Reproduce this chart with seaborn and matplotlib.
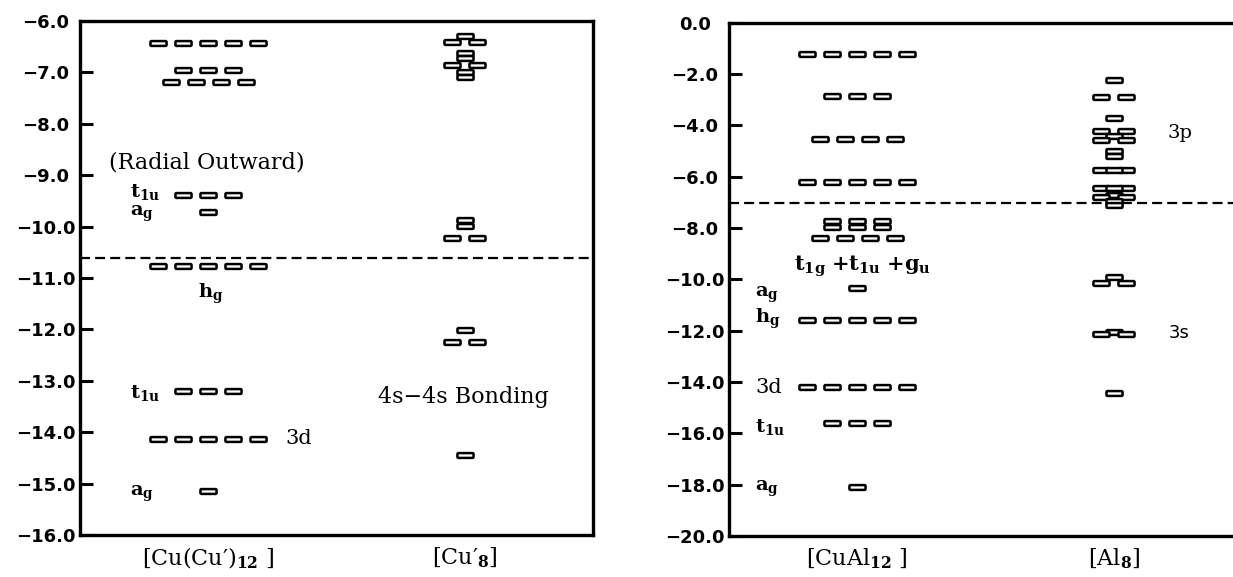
import numpy as np
import pandas as pd
import matplotlib
matplotlib.use("Agg")
import matplotlib.pyplot as plt
import seaborn as sns
from matplotlib.path import Path

sns.set_style("white")
plt.rcParams["font.family"] = ["DejaVu Serif"]
plt.rcParams["mathtext.fontset"] = "dejavuserif"
plt.rcParams["text.color"] = "black"
plt.rcParams["xtick.color"] = "black"
plt.rcParams["ytick.color"] = "black"

# orbital energies (eV) and number of degenerate boxes drawn on each level
cu12_energy = [-6.43, -6.96, -7.19, -9.39, -9.71, -10.76, -13.19, -14.13, -15.14]
cu12_degen = [5, 3, 4, 3, 1, 5, 3, 5, 1]

cu8_energy = [-6.29, -6.41, -6.63, -6.72, -6.86, -6.99, -7.09,
              -9.87, -9.99, -10.22, -12.02, -12.24, -14.44]
cu8_degen = [1, 2, 1, 1, 2, 1, 1, 1, 1, 2, 1, 2, 1]

cual12_energy = [-1.22, -2.84, -4.53, -6.19, -7.72, -7.95, -8.37,
                 -10.35, -11.58, -14.18, -15.58, -18.10]
cual12_degen = [5, 3, 4, 5, 3, 3, 4, 1, 5, 5, 3, 1]

al8_energy = [-2.23, -2.88, -3.72, -4.21, -4.41, -4.57, -5.00, -5.20,
              -5.74, -5.74, -6.45, -6.45, -6.70, -6.80, -6.95, -7.10,
              -9.90, -10.15, -12.05, -12.13, -14.44]
al8_degen = [1, 2, 1, 2, 1, 2, 1, 1, 2, 1, 2, 1, 1, 2, 1, 1, 1, 2, 1, 2, 1]

left_names = ["[Cu(Cu\u2032)$_{\\mathbf{12}}$ ]", "[Cu\u2032$_{\\mathbf{8}}$]"]
right_names = ["[CuAl$_{\\mathbf{12}}$ ]", "[Al$_{\\mathbf{8}}$]"]

left_fermi = -10.62
right_fermi = -7.01

step = 0.0975  # horizontal spacing of degenerate boxes


def boxes(energy, degen, col):
    rows = []
    for e, n in zip(energy, degen):
        for i in range(n):
            rows.append({"x": col + (i - (n - 1) / 2) * step, "E": e})
    return pd.DataFrame(rows)


# small rounded rectangle marker
w, h, r = 1.0, 0.3, 0.13
verts = [(-w + r, -h), (w - r, -h), (w, -h), (w, -h + r), (w, h - r), (w, h),
         (w - r, h), (-w + r, h), (-w, h), (-w, h - r), (-w, -h + r), (-w, -h),
         (-w + r, -h), (-w + r, -h)]
codes = [Path.MOVETO, Path.LINETO, Path.CURVE3, Path.CURVE3, Path.LINETO,
         Path.CURVE3, Path.CURVE3, Path.LINETO, Path.CURVE3, Path.CURVE3,
         Path.LINETO, Path.CURVE3, Path.CURVE3, Path.CLOSEPOLY]
box_marker = Path(verts, codes)

fig = plt.figure(figsize=(12.33, 5.77), dpi=100)
ax1 = fig.add_axes([80 / 1233, 42 / 577, 513 / 1233, 514 / 577])
ax2 = fig.add_axes([729 / 1233, 41 / 577, 513 / 1233, 513.3 / 577])


def draw_panel(ax, cols, names, ylim, yticks, fermi):
    df = pd.concat([boxes(e, d, i) for i, (e, d) in enumerate(cols)])
    sns.scatterplot(data=df, x="x", y="E", marker=box_marker, s=135,
                    color="white", edgecolor="black", linewidth=1.8,
                    ax=ax, zorder=3, legend=False)
    ax.axhline(fermi, color="black", lw=1.6, ls=(0, (4.5, 2.3)), zorder=1)
    ax.set_xlim(-0.5, 1.5)
    ax.set_ylim(*ylim)
    ax.set_xlabel("")
    ax.set_ylabel("")
    ax.set_xticks([0, 1], labels=names, fontsize=16)
    ax.set_yticks(yticks, labels=[f"{t:.1f}".replace("-", "\u2212") for t in yticks])
    ax.tick_params(axis="x", length=0, pad=8)
    ax.tick_params(axis="y", direction="in", length=9.5, width=2.2,
                   pad=24.5, left=True)
    for lbl in ax.get_yticklabels():
        lbl.set_ha("center")
        lbl.set_fontfamily("DejaVu Sans")
        lbl.set_fontweight("bold")
        lbl.set_fontsize(13)
    for sp in ax.spines.values():
        sp.set_visible(True)
        sp.set_color("black")
        sp.set_linewidth(2.4)


draw_panel(ax1, [(cu12_energy, cu12_degen), (cu8_energy, cu8_degen)],
           left_names, (-16, -6), np.arange(-16, -5.5, 1.0), left_fermi)
draw_panel(ax2, [(cual12_energy, cual12_degen), (al8_energy, al8_degen)],
           right_names, (-20, 0), np.arange(-20, 0.5, 2.0), right_fermi)

# left panel annotations
ax1.text(-0.005, -8.75, "(Radial Outward)", ha="center", va="center", fontsize=16)
ax1.text(-0.305, -9.33, r"$\mathbf{t_{1u}}$", ha="left", va="center", fontsize=14)
ax1.text(-0.305, -9.76, r"$\mathbf{a_{g}}$", ha="left", va="center", fontsize=14)
ax1.text(0.011, -11.3, r"$\mathbf{h_{g}}$", ha="center", va="center", fontsize=14)
ax1.text(-0.305, -13.24, r"$\mathbf{t_{1u}}$", ha="left", va="center", fontsize=14)
ax1.text(0.299, -14.13, "3d", ha="left", va="center", fontsize=15)
ax1.text(-0.305, -15.2, r"$\mathbf{a_{g}}$", ha="left", va="center", fontsize=14)
ax1.text(0.993, -13.32, "4s\u22124s Bonding", ha="center", va="center", fontsize=16)

# right panel annotations
ax2.text(-0.399, -10.6, r"$\mathbf{a_{g}}$", ha="left", va="center", fontsize=14)
ax2.text(-0.399, -11.55, r"$\mathbf{h_{g}}$", ha="left", va="center", fontsize=14)
ax2.text(-0.399, -14.2, "3d", ha="left", va="center", fontsize=15)
ax2.text(-0.399, -15.75, r"$\mathbf{t_{1u}}$", ha="left", va="center", fontsize=14)
ax2.text(-0.399, -18.15, r"$\mathbf{a_{g}}$", ha="left", va="center", fontsize=14)
ax2.text(0.022, -9.5, r"$\mathbf{t_{1g}\ {+}t_{1u}\ {+}g_{u}}$",
         ha="center", va="center", fontsize=15)
ax2.text(1.211, -4.28, "3p", ha="left", va="center", fontsize=14)
ax2.text(1.215, -12.1, "3s", ha="left", va="center", fontsize=13,
         family="DejaVu Sans")

fig.savefig("out.png", dpi=100)
